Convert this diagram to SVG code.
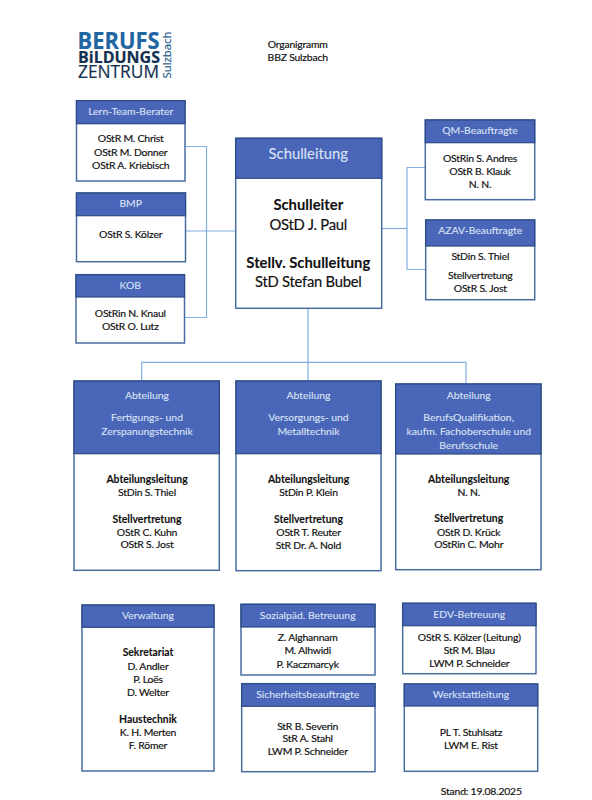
<svg xmlns="http://www.w3.org/2000/svg" width="592" height="800" viewBox="0 0 592 800">
<style>
text{font-family:"Lato","Liberation Sans",sans-serif;text-anchor:middle;font-size:10.4px;fill:#111;letter-spacing:-.2px;stroke:#111;stroke-width:.18px}
.b{font-weight:700;letter-spacing:0;stroke-width:.1px}
.h{fill:#dbe4f5;stroke:#dbe4f5;stroke-width:.1px;letter-spacing:0}
.body{fill:#fff;stroke:#4a6da0;stroke-width:1.5}
.head{fill:#4a66b9;stroke:#2b4a84;stroke-width:1.2}
.c{fill:none;stroke:#82aee2;stroke-width:1.2}
.big{font-size:14.8px}
.r{letter-spacing:-.25px}
.logo{font-family:"Open Sans","Liberation Sans",sans-serif;text-anchor:start;letter-spacing:0}
</style>
<rect width="592" height="800" fill="#fff"/>
<g id="connectors">
<path class="c" d="M185 146.500H206.500V317.500H185"/>
<path class="c" d="M185.500 231H236"/>
<path class="c" d="M381.500 228.500H407"/>
<path class="c" d="M425 167.500H407V269.500H425"/>
<path class="c" d="M308 308V381"/>
<path class="c" d="M141.700 381V362.300H466V384"/>
</g>
<g id="logo">
<text class="logo" x="77.500" y="49.300" font-weight="700" textLength="82" lengthAdjust="spacingAndGlyphs" style="fill:#1f66a3;stroke:#1f66a3;font-size:23px">BERUFS</text>
<text class="logo" x="78" y="63.300" font-weight="700" textLength="82" lengthAdjust="spacingAndGlyphs" style="fill:#12304f;stroke:#12304f;font-size:16.300px">BiLDUNGS</text>
<text class="logo" x="78" y="78.300" textLength="81" lengthAdjust="spacingAndGlyphs" style="fill:#12304f;stroke:#12304f;font-size:17.300px">ZENTRUM</text>
<text class="logo" transform="translate(171 78.500) rotate(-90)" textLength="47" lengthAdjust="spacingAndGlyphs" style="fill:#1f5c8f;stroke:#1f5c8f;font-size:11px">Sulzbach</text>
</g>
<g id="title">
<text x="297.700" y="48">Organigramm</text>
<text x="297.700" y="61.300">BBZ Sulzbach</text>
</g>
<g id="lern-team-berater">
<rect class="body" x="76.500" y="100.700" width="108.500" height="80.300"/><rect class="head" x="76.500" y="100.700" width="108.500" height="23"/>
<text class="h" x="130.700" y="115.300">Lern-Team-Berater</text>
<text x="130.700" y="142.300">OStR M. Christ</text><text x="130.700" y="155.700">OStR M. Donner</text><text x="130.700" y="169">OStR A. Kriebisch</text>
</g>
<g id="bmp">
<rect class="body" x="76.500" y="193" width="109" height="68.700"/><rect class="head" x="76.500" y="193" width="109" height="22.700"/>
<text class="h" x="130.700" y="207.300">BMP</text>
<text x="130.700" y="238">OStR S. Kölzer</text>
</g>
<g id="kob">
<rect class="body" x="76" y="274.700" width="108.500" height="68.300"/><rect class="head" x="76" y="274.700" width="108.500" height="22.300"/>
<text class="h" x="130.300" y="288.700">KOB</text>
<text x="130.300" y="317">OStRin N. Knaul</text><text x="130.300" y="330.300">OStR O. Lutz</text>
</g>
<g id="schulleitung">
<rect class="body" x="235.700" y="138.300" width="146" height="170"/><rect class="head" x="235.700" y="138.300" width="146" height="40"/>
<text class="h big" x="308.300" y="159.300">Schulleitung</text>
<text class="b big" x="308.300" y="210">Schulleiter</text><text class="big r" x="308.300" y="229.700">OStD J. Paul</text>
<text class="b big" x="308.300" y="268">Stellv. Schulleitung</text><text class="big r" x="308.300" y="287.300">StD Stefan Bubel</text>
</g>
<g id="qm-beauftragte">
<rect class="body" x="425.300" y="120" width="109.400" height="79.700"/><rect class="head" x="425.300" y="120" width="109.400" height="22.700"/>
<text class="h" x="480" y="134">QM-Beauftragte</text>
<text x="480" y="161.700">OStRin S. Andres</text><text x="480" y="175">OStR B. Klauk</text><text x="480" y="188.300">N. N.</text>
</g>
<g id="azav-beauftragte">
<rect class="body" x="425.700" y="220" width="109" height="79.700"/><rect class="head" x="425.700" y="220" width="109" height="26"/>
<text class="h" x="480.300" y="234">AZAV-Beauftragte</text>
<text x="480.300" y="260.300">StDin S. Thiel</text><text x="480.300" y="279.300">Stellvertretung</text><text x="480.300" y="292.300">OStR S. Jost</text>
</g>
<g id="abteilung-1">
<rect class="body" x="74" y="381" width="145.300" height="189.300"/><rect class="head" x="74" y="381" width="145.300" height="72.700"/>
<text class="h" x="147" y="398.700">Abteilung</text><text class="h" x="147" y="420.700">Fertigungs- und</text><text class="h" x="147" y="434.700">Zerspanungstechnik</text>
<text class="b" x="147" y="482.700">Abteilungsleitung</text><text x="147" y="496">StDin S. Thiel</text>
<text class="b" x="147" y="522.700">Stellvertretung</text><text x="147" y="536">OStR C. Kuhn</text><text x="147" y="548.300">OStR S. Jost</text>
</g>
<g id="abteilung-2">
<rect class="body" x="236" y="381" width="145" height="189.700"/><rect class="head" x="236" y="381" width="145" height="72.700"/>
<text class="h" x="308.500" y="398.700">Abteilung</text><text class="h" x="308.500" y="420.700">Versorgungs- und</text><text class="h" x="308.500" y="434.700">Metalltechnik</text>
<text class="b" x="308.500" y="482.700">Abteilungsleitung</text><text x="308.500" y="496">StDin P. Klein</text>
<text class="b" x="308.500" y="522.700">Stellvertretung</text><text x="308.500" y="536">OStR T. Reuter</text><text x="308.500" y="549">StR Dr. A. Nold</text>
</g>
<g id="abteilung-3">
<rect class="body" x="395.700" y="384" width="145.300" height="185.700"/><rect class="head" x="395.700" y="384" width="145.300" height="70"/>
<text class="h" x="468.700" y="399.300">Abteilung</text><text class="h" x="468.700" y="421.300">BerufsQualifikation,</text><text class="h" x="468.700" y="435.300">kaufm. Fachoberschule und</text><text class="h" x="468.700" y="449.300">Berufsschule</text>
<text class="b" x="468.700" y="482.700">Abteilungsleitung</text><text x="468.700" y="496">N. N.</text>
<text class="b" x="468.700" y="522">Stellvertretung</text><text x="468.700" y="535.500">OStR D. Krück</text><text x="468.700" y="548">OStRin C. Mohr</text>
</g>
<g id="verwaltung">
<rect class="body" x="82" y="605" width="132" height="166"/><rect class="head" x="82" y="605" width="132" height="22.300"/>
<text class="h" x="148" y="619.300">Verwaltung</text>
<text class="b" x="148" y="656.300">Sekretariat</text><text x="148" y="669.700">D. Andler</text><text x="148" y="683">P. Loës</text><text x="148" y="696.300">D. Welter</text>
<text class="b" x="148" y="723">Haustechnik</text><text x="148" y="736.300">K. H. Merten</text><text x="148" y="749">F. Römer</text>
</g>
<g id="sozialpaed-betreuung">
<rect class="body" x="241" y="604.300" width="134" height="70.700"/><rect class="head" x="241" y="604.300" width="134" height="22.700"/>
<text class="h" x="307.700" y="618.700">Sozialpäd. Betreuung</text>
<text x="307.700" y="641">Z. Alghannam</text><text x="307.700" y="654.300">M. Alhwidi</text><text x="307.700" y="667.700">P. Kaczmarcyk</text>
</g>
<g id="sicherheitsbeauftragte">
<rect class="body" x="241.700" y="683.700" width="133.300" height="88"/><rect class="head" x="241.700" y="683.700" width="133.300" height="22.600"/>
<text class="h" x="307.700" y="698.300">Sicherheitsbeauftragte</text>
<text x="307.700" y="729.700">StR B. Severin</text><text x="307.700" y="742">StR A. Stahl</text><text x="307.700" y="755.300">LWM P. Schneider</text>
</g>
<g id="edv-betreuung">
<rect class="body" x="402.700" y="603.300" width="133.300" height="70.400"/><rect class="head" x="402.700" y="603.300" width="133.300" height="22.400"/>
<text class="h" x="469.300" y="618.300">EDV-Betreuung</text>
<text x="469.300" y="640.700">OStR S. Kölzer (Leitung)</text><text x="469.300" y="654">StR M. Blau</text><text x="469.300" y="667">LWM P. Schneider</text>
</g>
<g id="werkstattleitung">
<rect class="body" x="404.300" y="684" width="133.400" height="87.300"/><rect class="head" x="404.300" y="684" width="133.400" height="22"/>
<text class="h" x="471" y="698.300">Werkstattleitung</text>
<text x="471" y="735.700">PL T. Stuhlsatz</text><text x="471" y="748.700">LWM E. Rist</text>
</g>
<text id="stand" x="481.300" y="795">Stand: 19.08.2025</text>
</svg>
